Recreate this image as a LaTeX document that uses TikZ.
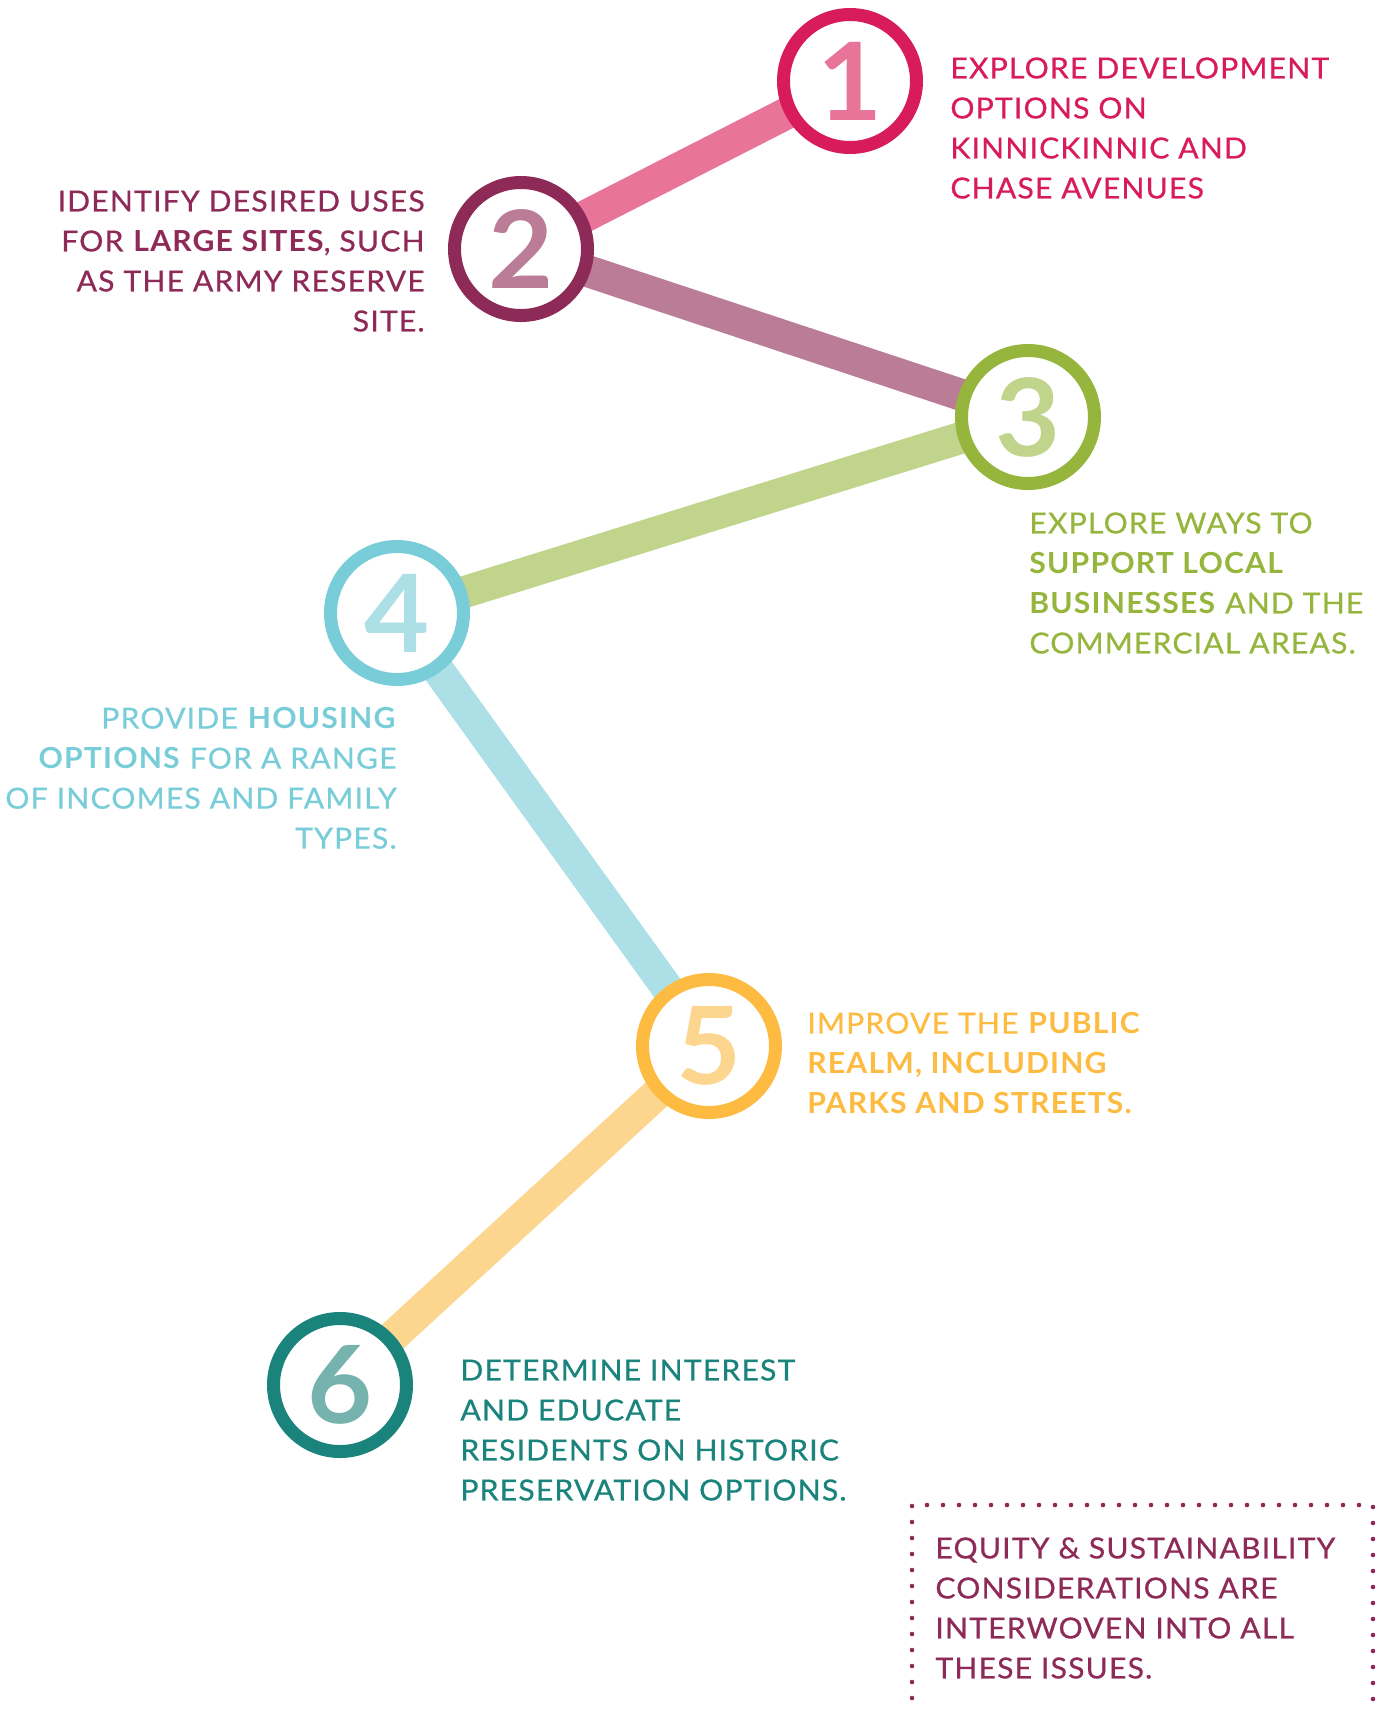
\documentclass[tikz,border=0pt]{standalone}
\usepackage{fontspec}
\setmainfont{Lato}[LetterSpace=4, FakeStretch=1.04, UprightFeatures={FakeBold=0.6}]
\usetikzlibrary{backgrounds}
\definecolor{ringA}{HTML}{D81B5B}\definecolor{numA}{HTML}{E8749A}
\definecolor{ringB}{HTML}{8E2A58}\definecolor{numB}{HTML}{BA7C96}
\definecolor{ringC}{HTML}{95B53D}\definecolor{numC}{HTML}{C1D48C}
\definecolor{ringD}{HTML}{79CDD9}\definecolor{numD}{HTML}{ADE0E6}
\definecolor{ringE}{HTML}{FDBB41}\definecolor{numE}{HTML}{FCD68E}
\definecolor{ringF}{HTML}{1A837C}\definecolor{numF}{HTML}{77B3AE}
\tikzset{
  stepring/.style={circle, draw=#1, line width=6.5pt, fill=white, inner sep=0pt,
    minimum size=66.5pt, font=\fontsize{54}{54}\selectfont\bfseries},
  linkbar/.style={line width=16pt, draw=#1},
  lbl/.style={inner sep=0pt, font=\fontsize{14.5}{20}\selectfont, text=#1},
  dotline/.style={draw=ringB, line width=2.3pt, line cap=round, dash pattern=on 0pt off 8pt}
}
\begin{document}
\begin{tikzpicture}[x=0.5pt,y=-0.5pt]
\useasboundingbox (0,0) rectangle (1380,1710);
\clip (0,0) rectangle (1380,1710);
\node[stepring=ringA, text=numA] (c1) at (850,81) {1};
\node[stepring=ringB, text=numB] (c2) at (521,249) {2};
\node[stepring=ringC, text=numC] (c3) at (1028,417) {3};
\node[stepring=ringD, text=numD] (c4) at (397,613) {4};
\node[stepring=ringE, text=numE] (c5) at (709,1046) {5};
\node[stepring=ringF, text=numF] (c6) at (340,1385) {6};
\begin{pgfonlayer}{background}
\draw[linkbar=numA] (c1.center) -- (c2.center);
\draw[linkbar=numB] (c2.center) -- (c3.center);
\draw[linkbar=numC] (c3.center) -- (c4.center);
\draw[linkbar=numD] (c4.center) -- (c5.center);
\draw[linkbar=numE] (c5.center) -- (c6.center);
\end{pgfonlayer}
\node[lbl=ringA, anchor=north west, align=left] (t1) at (950,57)
  {EXPLORE DEVELOPMENT\\OPTIONS ON\\KINNICKINNIC AND\\CHASE AVENUES};
\node[lbl=ringB, anchor=north east, align=right] (t2) at (425,190)
  {IDENTIFY DESIRED USES\\FOR \textbf{LARGE SITES}, SUCH\\AS THE ARMY RESERVE\\SITE.};
\node[lbl=ringC, anchor=north west, align=left] (t3) at (1029,512)
  {EXPLORE WAYS TO\\\textbf{SUPPORT LOCAL}\\\textbf{BUSINESSES} AND THE\\COMMERCIAL AREAS.};
\node[lbl=ringD, anchor=north east, align=right] (t4) at (397,707)
  {PROVIDE \textbf{HOUSING}\\\textbf{OPTIONS} FOR A RANGE\\OF INCOMES AND FAMILY\\TYPES.};
\node[lbl=ringE, anchor=north west, align=left] (t5) at (807,1012)
  {IMPROVE THE \textbf{PUBLIC}\\\textbf{REALM, INCLUDING}\\\textbf{PARKS AND STREETS.}};
\node[lbl=ringF, anchor=north west, align=left] (t6) at (460,1359)
  {DETERMINE INTEREST\\AND EDUCATE\\RESIDENTS ON HISTORIC\\PRESERVATION OPTIONS.};
\coordinate (bl) at (912,1730);
\coordinate (tl) at (912,1505);
\coordinate (tr) at (1373,1505);
\coordinate (br) at (1373,1730);
\draw[dotline] (bl) -- (tl) -- (tr) -- (br);
\node[lbl=ringB, anchor=north west, align=left] (t7) at (935,1537)
  {EQUITY \& SUSTAINABILITY\\CONSIDERATIONS ARE\\INTERWOVEN INTO ALL\\THESE ISSUES.};
\end{tikzpicture}
\end{document}
